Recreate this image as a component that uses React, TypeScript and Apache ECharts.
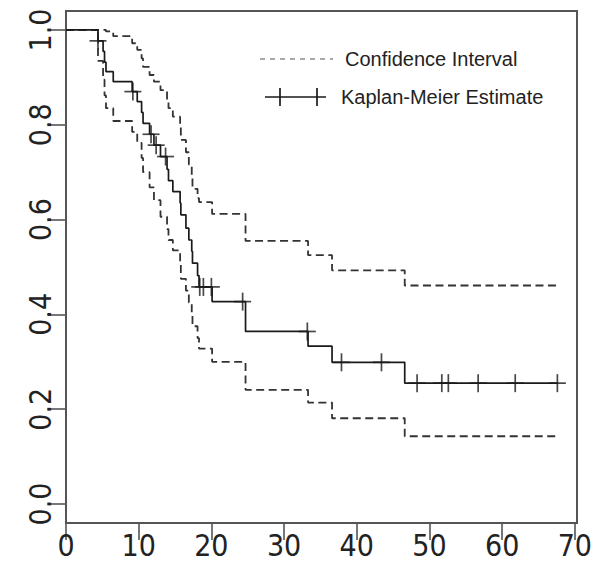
import React, { useEffect, useRef } from "react";
import * as echarts from "echarts";

// Kaplan-Meier step data (time of step, level after step)
const eventTimes = [0, 4.4, 5.1, 5.3, 5.5, 6.5, 9.1, 9.8, 10.4, 10.6, 11.5, 12.1, 13.0, 13.9, 14.1, 14.7, 15.7, 15.8, 16.5, 16.9, 17.3, 17.4, 18.1, 18.3, 20.1, 24.7, 33.3, 36.6, 46.6, 67.6];
const kmSurv = [1.0, 0.977, 0.955, 0.932, 0.912, 0.891, 0.870, 0.849, 0.826, 0.803, 0.780, 0.757, 0.733, 0.706, 0.682, 0.659, 0.635, 0.610, 0.582, 0.557, 0.533, 0.508, 0.482, 0.458, 0.427, 0.364, 0.333, 0.299, 0.255, 0.255];
const upperCI = [1.0, 1.0, 1.0, 1.0, 0.997, 0.987, 0.972, 0.958, 0.940, 0.922, 0.905, 0.891, 0.873, 0.852, 0.835, 0.817, 0.795, 0.768, 0.742, 0.716, 0.690, 0.665, 0.645, 0.637, 0.612, 0.555, 0.525, 0.493, 0.461, 0.461];
const lowerCI = [1.0, 0.935, 0.895, 0.862, 0.835, 0.808, 0.785, 0.762, 0.730, 0.700, 0.668, 0.641, 0.606, 0.580, 0.557, 0.535, 0.510, 0.475, 0.450, 0.425, 0.400, 0.375, 0.350, 0.328, 0.300, 0.241, 0.214, 0.181, 0.143, 0.143];
const censorTimes = [4.4, 9.2, 11.7, 12.4, 13.7, 18.4, 18.9, 20.0, 24.3, 33.2, 37.9, 43.4, 48.3, 51.7, 52.6, 56.7, 61.8, 67.6];

const xTicks = [0, 10, 20, 30, 40, 50, 60, 70];
const yTicks = [0, 0.2, 0.4, 0.6, 0.8, 1.0];

const FONT = "'Liberation Sans', Arial, Helvetica, sans-serif";
const AXIS_FONT = "'Liberation Sans Narrow', 'DejaVu Sans Condensed', 'Liberation Sans', Arial, sans-serif";

function pairs(ys: number[]) {
  return eventTimes.map((t, i) => [t, ys[i]]);
}
function kmAt(t: number) {
  let s = kmSurv[0];
  for (let i = 0; i < eventTimes.length; i++) {
    if (eventTimes[i] <= t) s = kmSurv[i];
  }
  return s;
}

export default function App() {
  const ref = useRef<HTMLDivElement>(null);
  useEffect(() => {
    if (!ref.current) return;
    const chart = echarts.init(ref.current, undefined, { renderer: "svg" });
    const censorData = censorTimes.map((t) => [t, kmAt(t)]);
    const dash = { type: [8, 4.5] as any, color: "#333", width: 1.8 };
    chart.setOption({
      animation: false,
      backgroundColor: "#fff",
      grid: {
        left: 66,
        top: 11,
        width: 511,
        height: 512,
        show: true,
        borderColor: "#555",
        borderWidth: 2,
        backgroundColor: "transparent",
      },
      xAxis: {
        type: "value",
        min: 0,
        max: 70.3,
        axisLine: { show: false, onZero: false },
        splitLine: { show: false },
        axisTick: { show: true, length: 17, lineStyle: { color: "#555", width: 1.6 }, customValues: xTicks },
        axisLabel: { customValues: xTicks, fontSize: 30, color: "#222", margin: 7, fontFamily: AXIS_FONT },
      },
      yAxis: {
        type: "value",
        min: -0.04,
        max: 1.04,
        axisLine: { show: false, onZero: false },
        splitLine: { show: false },
        axisTick: { show: true, length: 16, lineStyle: { color: "#555", width: 1.6 }, customValues: yTicks },
        axisLabel: {
          customValues: yTicks,
          rotate: 90,
          fontSize: 30,
          color: "#222",
          margin: 11,
          fontFamily: AXIS_FONT,
          formatter: (v: number) => v.toFixed(1),
        },
      },
      series: [
        {
          name: "Upper CI",
          type: "line",
          step: "end",
          data: pairs(upperCI),
          showSymbol: false,
          lineStyle: dash,
        },
        {
          name: "Lower CI",
          type: "line",
          step: "end",
          data: pairs(lowerCI),
          showSymbol: false,
          lineStyle: dash,
        },
        {
          name: "Kaplan-Meier Estimate",
          type: "line",
          step: "end",
          data: pairs(kmSurv),
          showSymbol: false,
          lineStyle: { color: "#1a1a1a", width: 1.7 },
        },
        {
          name: "censor-v",
          type: "scatter",
          data: censorData,
          symbol: "rect",
          symbolSize: [1.7, 18],
          itemStyle: { color: "#1a1a1a" },
        },
        {
          name: "censor-h",
          type: "scatter",
          data: censorData,
          symbol: "rect",
          symbolSize: [17, 1.7],
          itemStyle: { color: "#1a1a1a" },
        },
      ],
      graphic: [
        { type: "line", shape: { x1: 260, y1: 59, x2: 333, y2: 59 }, style: { stroke: "#555", lineWidth: 1.2, lineDash: [5, 5] } },
        { type: "text", x: 345, y: 59, style: { text: "Confidence Interval", fontSize: 20, fill: "#222", fontFamily: FONT, verticalAlign: "middle" } },
        { type: "line", shape: { x1: 265, y1: 97, x2: 326, y2: 97 }, style: { stroke: "#1a1a1a", lineWidth: 1.7 } },
        { type: "line", shape: { x1: 280, y1: 88, x2: 280, y2: 106 }, style: { stroke: "#1a1a1a", lineWidth: 1.7 } },
        { type: "line", shape: { x1: 317, y1: 88, x2: 317, y2: 106 }, style: { stroke: "#1a1a1a", lineWidth: 1.7 } },
        { type: "text", x: 341, y: 97, style: { text: "Kaplan-Meier Estimate", fontSize: 20, fill: "#222", fontFamily: FONT, verticalAlign: "middle" } },
      ],
    });
    return () => chart.dispose();
  }, []);
  return <div ref={ref} style={{ position: "fixed", left: 0, top: 0, width: 599, height: 575 }} />;
}
